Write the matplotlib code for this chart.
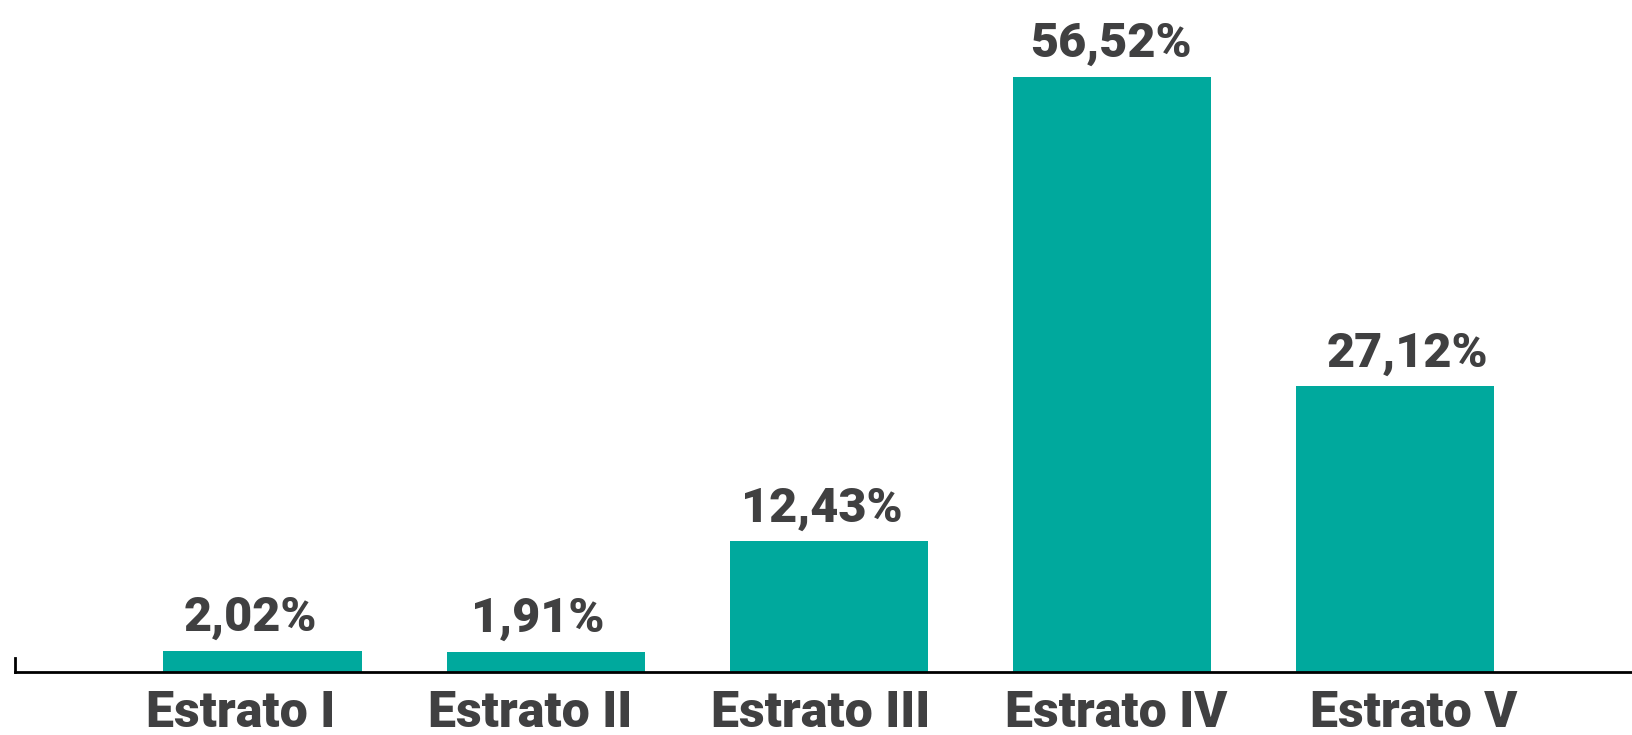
import matplotlib.pyplot as plt

categories = ['Estrato I', 'Estrato II', 'Estrato III', 'Estrato IV', 'Estrato V']
values = [2.02, 1.91, 12.43, 56.52, 27.12]
labels = ['2,02%', '1,91%', '12,43%', '56,52%', '27,12%']

bar_color = '#00A99D'
text_color = '#404041'
font = ['Roboto', 'DejaVu Sans']

# small horizontal nudges of the texts, as in the original layout
value_shift = [-0.042, -0.028, -0.025, -0.005, 0.042]
tick_shift = [-0.078, -0.056, -0.028, 0.014, 0.066]


def bar_plot():
    fig = plt.figure(figsize=(16.33, 7.35), dpi=100)
    ax = fig.add_axes([15 / 1633, 1 - 672 / 735, 1 - 15 / 1633, 672 / 735])
    x = list(range(len(categories)))
    ax.bar(x, values, width=0.7, color=bar_color)
    for i, v in enumerate(values):
        ax.annotate(labels[i], (x[i] + value_shift[i], v), xytext=(0, 7),
                    textcoords='offset points', ha='center', va='bottom',
                    fontsize=35, fontweight='black', color=text_color, family=font)
    ax.set_xlim(-0.874, 4.84)
    ax.set_ylim(0, 63.8)
    ax.set_xticks([x[i] + tick_shift[i] for i in x])
    ax.set_xticklabels(categories, fontsize=36, fontweight='black', color=text_color,
                       family=font)
    ax.tick_params(axis='x', length=0, pad=13)
    ax.set_yticks([])
    for s in ['top', 'right']:
        ax.spines[s].set_visible(False)
    ax.spines['bottom'].set_linewidth(2)
    ax.spines['left'].set_linewidth(2)
    ax.spines['left'].set_bounds(0, 1.35)
    fig.savefig('out.png', dpi=100)


if __name__ == '__main__':
    bar_plot()
